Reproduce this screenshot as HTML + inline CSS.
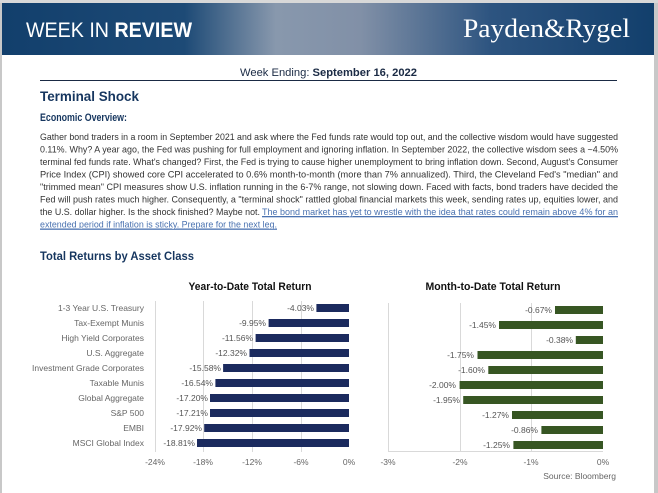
<!DOCTYPE html>
<html><head><meta charset="utf-8"><style>
html,body{margin:0;padding:0;background:#fff;}
svg{display:block;}
</style></head><body>
<svg width="658" height="493" viewBox="0 0 658 493" xmlns="http://www.w3.org/2000/svg" font-family="'Liberation Sans', sans-serif">
<defs>
<linearGradient id="hg" x1="0" x2="1" y1="0" y2="0">
<stop offset="0" stop-color="#123f6c"/>
<stop offset="0.28" stop-color="#1d4a76"/>
<stop offset="0.42" stop-color="#8898ad"/>
<stop offset="0.55" stop-color="#8190a7"/>
<stop offset="0.75" stop-color="#2d5480"/>
<stop offset="1" stop-color="#123f6c"/>
</linearGradient>
</defs>
<rect width="658" height="493" fill="#fff"/>
<rect x="0" y="0" width="2" height="493" fill="#c8c8c8"/>
<rect x="654" y="0" width="4" height="493" fill="#c8c8c8"/>
<rect x="0" y="0" width="658" height="3" fill="#d8d8d8"/>
<rect x="2" y="3" width="652" height="52" fill="url(#hg)"/>
<text x="26" y="37" font-size="21" fill="#fff" textLength="166" lengthAdjust="spacingAndGlyphs">WEEK IN <tspan font-weight="bold">REVIEW</tspan></text>
<text x="463" y="37" font-size="26" fill="#fff" font-family="'Liberation Serif', serif" textLength="167" lengthAdjust="spacingAndGlyphs">Payden&amp;Rygel</text>
<text x="240" y="76" font-size="11" fill="#1a2a44" textLength="177" lengthAdjust="spacingAndGlyphs">Week Ending: <tspan font-weight="bold">September 16, 2022</tspan></text>
<rect x="40" y="80" width="577" height="1" fill="#1a2a44"/>
<text x="40" y="101" font-size="14" font-weight="bold" fill="#16365f" textLength="99" lengthAdjust="spacingAndGlyphs">Terminal Shock</text>
<text x="40" y="121" font-size="11" font-weight="bold" fill="#16365f" textLength="87" lengthAdjust="spacingAndGlyphs">Economic Overview:</text>
<g font-size="9.5" fill="#333" lengthAdjust="spacingAndGlyphs">
<text x="40" y="140" textLength="578" lengthAdjust="spacingAndGlyphs">Gather bond traders in a room in September 2021 and ask where the Fed funds rate would top out, and the collective wisdom would have suggested</text>
<text x="40" y="152.5" textLength="578" lengthAdjust="spacingAndGlyphs">0.11%. Why? A year ago, the Fed was pushing for full employment and ignoring inflation. In September 2022, the collective wisdom sees a ~4.50%</text>
<text x="40" y="165" textLength="578" lengthAdjust="spacingAndGlyphs">terminal fed funds rate. What's changed? First, the Fed is trying to cause higher unemployment to bring inflation down. Second, August's Consumer</text>
<text x="40" y="177.5" textLength="578" lengthAdjust="spacingAndGlyphs">Price Index (CPI) showed core CPI accelerated to 0.6% month-to-month (more than 7% annualized). Third, the Cleveland Fed's "median" and</text>
<text x="40" y="190" textLength="578" lengthAdjust="spacingAndGlyphs">"trimmed mean" CPI measures show U.S. inflation running in the 6-7% range, not slowing down. Faced with facts, bond traders have decided the</text>
<text x="40" y="202.5" textLength="578" lengthAdjust="spacingAndGlyphs">Fed will push rates much higher. Consequently, a "terminal shock" rattled global financial markets this week, sending rates up, equities lower, and</text>
<text x="40" y="215" textLength="220" lengthAdjust="spacingAndGlyphs">the U.S. dollar higher. Is the shock finished? Maybe not.</text>
<text x="262" y="215" textLength="356" lengthAdjust="spacingAndGlyphs" fill="#4a72b0" text-decoration="underline">The bond market has yet to wrestle with the idea that rates could remain above 4% for an</text>
<text x="40" y="227.5" textLength="237" lengthAdjust="spacingAndGlyphs" fill="#4a72b0" text-decoration="underline">extended period if inflation is sticky. Prepare for the next leg.</text>
</g>
<rect x="262" y="216.5" width="356" height="0.8" fill="#4a72b0"/>
<rect x="40" y="229" width="237" height="0.8" fill="#4a72b0"/>
<text x="40" y="260" font-size="12" font-weight="bold" fill="#16365f" textLength="154" lengthAdjust="spacingAndGlyphs">Total Returns by Asset Class</text>

<!-- YTD chart -->
<text x="250" y="290" font-size="11" font-weight="bold" fill="#111" text-anchor="middle" textLength="123" lengthAdjust="spacingAndGlyphs">Year-to-Date Total Return</text>
<g stroke="#d9d9d9" stroke-width="1">
<line x1="155.5" y1="301" x2="155.5" y2="452"/>
<line x1="203.5" y1="301" x2="203.5" y2="452"/>
<line x1="252.5" y1="301" x2="252.5" y2="452"/>
<line x1="301.5" y1="301" x2="301.5" y2="452"/>
</g>
<g fill="#1b2a5e">
<rect x="316.4" y="304" width="32.6" height="8"/>
<rect x="268.6" y="319" width="80.4" height="8"/>
<rect x="255.6" y="334" width="93.4" height="8"/>
<rect x="249.5" y="349" width="99.5" height="8"/>
<rect x="223.1" y="364" width="125.9" height="8"/>
<rect x="215.4" y="379" width="133.6" height="8"/>
<rect x="210.0" y="394" width="139" height="8"/>
<rect x="210.0" y="409" width="139" height="8"/>
<rect x="204.2" y="424" width="144.8" height="8"/>
<rect x="197.0" y="439" width="152" height="8"/>
</g>
<g font-size="8.5" fill="#666" text-anchor="end">
<text x="144" y="311">1-3 Year U.S. Treasury</text>
<text x="144" y="326">Tax-Exempt Munis</text>
<text x="144" y="341">High Yield Corporates</text>
<text x="144" y="356">U.S. Aggregate</text>
<text x="144" y="371">Investment Grade Corporates</text>
<text x="144" y="386">Taxable Munis</text>
<text x="144" y="401">Global Aggregate</text>
<text x="144" y="416">S&amp;P 500</text>
<text x="144" y="431">EMBI</text>
<text x="144" y="446">MSCI Global Index</text>
</g>
<g font-size="8.5" fill="#555" text-anchor="end">
<text x="314" y="311">-4.03%</text>
<text x="266" y="326">-9.95%</text>
<text x="253" y="341">-11.56%</text>
<text x="247" y="356">-12.32%</text>
<text x="221" y="371">-15.58%</text>
<text x="213" y="386">-16.54%</text>
<text x="208" y="401">-17.20%</text>
<text x="208" y="416">-17.21%</text>
<text x="202" y="431">-17.92%</text>
<text x="195" y="446">-18.81%</text>
</g>
<g font-size="8.5" fill="#666" text-anchor="middle">
<text x="155" y="465">-24%</text>
<text x="203" y="465">-18%</text>
<text x="252" y="465">-12%</text>
<text x="301" y="465">-6%</text>
<text x="349" y="465">0%</text>
</g>

<!-- MTD chart -->
<text x="493" y="290" font-size="11" font-weight="bold" fill="#111" text-anchor="middle" textLength="135" lengthAdjust="spacingAndGlyphs">Month-to-Date Total Return</text>
<g stroke="#d9d9d9" stroke-width="1">
<line x1="388.5" y1="303" x2="388.5" y2="452"/>
<line x1="460.5" y1="303" x2="460.5" y2="452"/>
<line x1="531.5" y1="303" x2="531.5" y2="452"/>
<line x1="388" y1="451.5" x2="603" y2="451.5"/>
</g>
<g fill="#375623">
<rect x="555.0" y="306" width="48" height="8"/>
<rect x="499.0" y="321" width="104" height="8"/>
<rect x="575.8" y="336" width="27.2" height="8"/>
<rect x="477.5" y="351" width="125.5" height="8"/>
<rect x="488.3" y="366" width="114.7" height="8"/>
<rect x="459.6" y="381" width="143.4" height="8"/>
<rect x="463.2" y="396" width="139.8" height="8"/>
<rect x="512.0" y="411" width="91" height="8"/>
<rect x="541.4" y="426" width="61.6" height="8"/>
<rect x="513.4" y="441" width="89.6" height="8"/>
</g>
<g font-size="8.5" fill="#555" text-anchor="end">
<text x="552" y="313">-0.67%</text>
<text x="496" y="328">-1.45%</text>
<text x="573" y="343">-0.38%</text>
<text x="474" y="358">-1.75%</text>
<text x="485" y="373">-1.60%</text>
<text x="456" y="388">-2.00%</text>
<text x="460" y="403">-1.95%</text>
<text x="509" y="418">-1.27%</text>
<text x="538" y="433">-0.86%</text>
<text x="510" y="448">-1.25%</text>
</g>
<g font-size="8.5" fill="#666" text-anchor="middle">
<text x="388" y="465">-3%</text>
<text x="460" y="465">-2%</text>
<text x="531" y="465">-1%</text>
<text x="603" y="465">0%</text>
</g>
<text x="616" y="479" font-size="8.5" fill="#666" text-anchor="end">Source: Bloomberg</text>
</svg>
</body></html>
